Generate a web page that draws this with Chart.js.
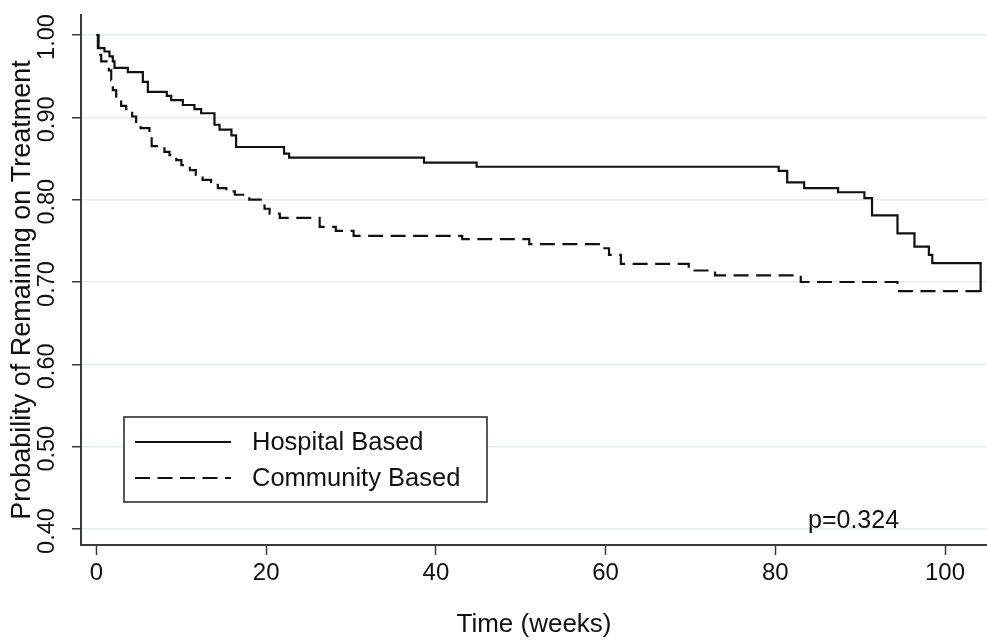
<!DOCTYPE html>
<html>
<head>
<meta charset="utf-8">
<script src="https://cdn.jsdelivr.net/npm/chart.js@4.4.0/dist/chart.umd.min.js"></script>
<style>
  html, body { margin: 0; padding: 0; background: #ffffff; }
  #wrap { width: 987px; height: 641px; position: relative; }
</style>
</head>
<body>
<div id="wrap"><canvas id="c" width="987" height="641"></canvas></div>
<script>
// ---- data (Kaplan-Meier step curves) ----
const seriesLabels = ['Hospital Based', 'Community Based'];

const hospitalWeeks = [0, 0.16, 0.94, 1.53, 1.92, 2.12, 3.69, 5.46, 6.05, 8.28, 8.8, 10.17, 11.54, 12.33,
  13.9, 14.5, 15.9, 16.45, 22.1, 22.7, 38.6, 44.8, 80.4, 81.4, 83.4, 87.4, 90.5, 91.4, 94.4, 96.4, 98.1, 98.5, 104.2];
const hospitalSurvival = [1.000, 0.984, 0.980, 0.974, 0.968, 0.960, 0.955, 0.943, 0.931, 0.926, 0.921, 0.915, 0.910, 0.905,
  0.891, 0.885, 0.878, 0.864, 0.856, 0.851, 0.845, 0.840, 0.835, 0.821, 0.814, 0.809, 0.802, 0.781, 0.759, 0.743, 0.733, 0.723, 0.688];

const communityWeeks = [0, 0.24, 0.55, 1.45, 1.73, 1.92, 2.32, 2.9, 3.5, 4.2, 4.67, 5.2, 6.24, 6.5, 8.0, 8.6, 9.4, 10.0,
  11.0, 11.7, 12.5, 13.5, 14.3, 15.3, 16.3, 18.0, 19.6, 19.8, 20.4, 21.6, 26.3, 28.2, 30.3, 43.1, 51.0, 59.2, 60.4, 61.8,
  69.8, 72.9, 83.0, 94.4, 104.2];
const communitySurvival = [1.000, 0.976, 0.968, 0.957, 0.945, 0.933, 0.923, 0.914, 0.910, 0.901, 0.893, 0.887, 0.878, 0.865, 0.858, 0.854, 0.848, 0.842,
  0.836, 0.830, 0.824, 0.818, 0.814, 0.810, 0.806, 0.800, 0.795, 0.789, 0.783, 0.778, 0.767, 0.762, 0.756, 0.752, 0.746, 0.741, 0.733, 0.722,
  0.714, 0.708, 0.700, 0.689, 0.689];

const xTickValues = [0, 20, 40, 60, 80, 100];
const yTickValues = [0.40, 0.50, 0.60, 0.70, 0.80, 0.90, 1.00];
const xTitle = 'Time (weeks)';
const yTitle = 'Probability of Remaining on Treatment';
const pValueText = 'p=0.324';

// ---- styling ----
const FONT = '"Liberation Sans", Arial, Helvetica, sans-serif';
const INK = '#111111';
const AXIS = '#3a3a3a';
const GRID = '#e4edef';
const DASH = [15, 7.5];

function toPoints(xs, ys) { return xs.map((x, i) => ({ x: x, y: ys[i] })); }

const overlayPlugin = {
  id: 'overlay',
  afterDraw(chart) {
    const ctx = chart.ctx;
    const ys = chart.scales.y;
    ctx.save();
    ctx.fillStyle = INK;
    // rotated y tick labels
    ctx.font = '23.5px ' + FONT;
    ctx.textAlign = 'center';
    ctx.textBaseline = 'middle';
    yTickValues.forEach(v => {
      const py = ys.getPixelForValue(v);
      ctx.save();
      ctx.translate(48, py + 2);
      ctx.rotate(-Math.PI / 2);
      ctx.fillText(v.toFixed(2), 0, 0);
      ctx.restore();
    });
    // y axis title
    ctx.save();
    ctx.font = '27px ' + FONT;
    ctx.translate(23, 290);
    ctx.rotate(-Math.PI / 2);
    ctx.fillText(yTitle, 0, 0);
    ctx.restore();

    // legend box
    const bx = 124, by = 417, bw = 363, bh = 85;
    ctx.fillStyle = '#ffffff';
    ctx.fillRect(bx, by, bw, bh);
    ctx.strokeStyle = '#222222';
    ctx.lineWidth = 1.5;
    ctx.strokeRect(bx, by, bw, bh);
    const rows = [442, 478];
    chart.data.datasets.forEach((ds, i) => {
      ctx.beginPath();
      ctx.strokeStyle = ds.borderColor;
      ctx.lineWidth = ds.borderWidth;
      ctx.setLineDash(ds.borderDash || []);
      ctx.moveTo(135, rows[i]);
      ctx.lineTo(231, rows[i]);
      ctx.stroke();
      ctx.setLineDash([]);
      ctx.fillStyle = INK;
      ctx.font = '25.5px ' + FONT;
      ctx.textAlign = 'left';
      ctx.textBaseline = 'middle';
      ctx.fillText(ds.label, 252, rows[i] + 1);
    });

    // p-value annotation
    ctx.font = '25px ' + FONT;
    ctx.textAlign = 'left';
    ctx.textBaseline = 'middle';
    ctx.fillStyle = INK;
    ctx.fillText(pValueText, 808, 521);
    ctx.restore();
  }
};

new Chart(document.getElementById('c'), {
  type: 'line',
  data: {
    datasets: [
      {
        label: seriesLabels[0],
        data: toPoints(hospitalWeeks, hospitalSurvival),
        borderColor: INK,
        borderWidth: 2.2,
        stepped: true,
        pointRadius: 0,
        fill: false
      },
      {
        label: seriesLabels[1],
        data: toPoints(communityWeeks, communitySurvival),
        borderColor: INK,
        borderWidth: 2.2,
        borderDash: DASH,
        stepped: true,
        pointRadius: 0,
        fill: false
      }
    ]
  },
  options: {
    responsive: false,
    animation: false,
    devicePixelRatio: 1,
    layout: { padding: { top: 15, right: 0, bottom: 0, left: 0 } },
    plugins: {
      legend: { display: false },
      tooltip: { enabled: false },
      title: { display: false }
    },
    scales: {
      x: {
        type: 'linear',
        min: -1.83,
        max: 104.95,
        afterBuildTicks(scale) { scale.ticks = xTickValues.map(v => ({ value: v })); },
        afterFit(scale) { scale.height = 96; },
        grid: { drawOnChartArea: false, drawTicks: true, tickLength: 10, tickColor: AXIS, tickWidth: 1.5 },
        border: { display: true, color: AXIS, width: 2 },
        ticks: { color: INK, font: { family: FONT, size: 24 }, padding: 4, maxRotation: 0, autoSkip: false },
        title: { display: true, text: xTitle, color: INK, font: { family: FONT, size: 26 }, padding: { top: 0, bottom: 1 } }
      },
      y: {
        type: 'linear',
        min: 0.3806,
        max: 1.0243,
        afterBuildTicks(scale) { scale.ticks = yTickValues.map(v => ({ value: v })); },
        afterFit(scale) { scale.width = 81; },
        grid: { color: GRID, lineWidth: 1.5, drawTicks: true, tickLength: 9, tickColor: AXIS, tickWidth: 1.5 },
        border: { display: true, color: AXIS, width: 2 },
        ticks: { display: false }
      }
    }
  },
  plugins: [overlayPlugin]
});
</script>
</body>
</html>
